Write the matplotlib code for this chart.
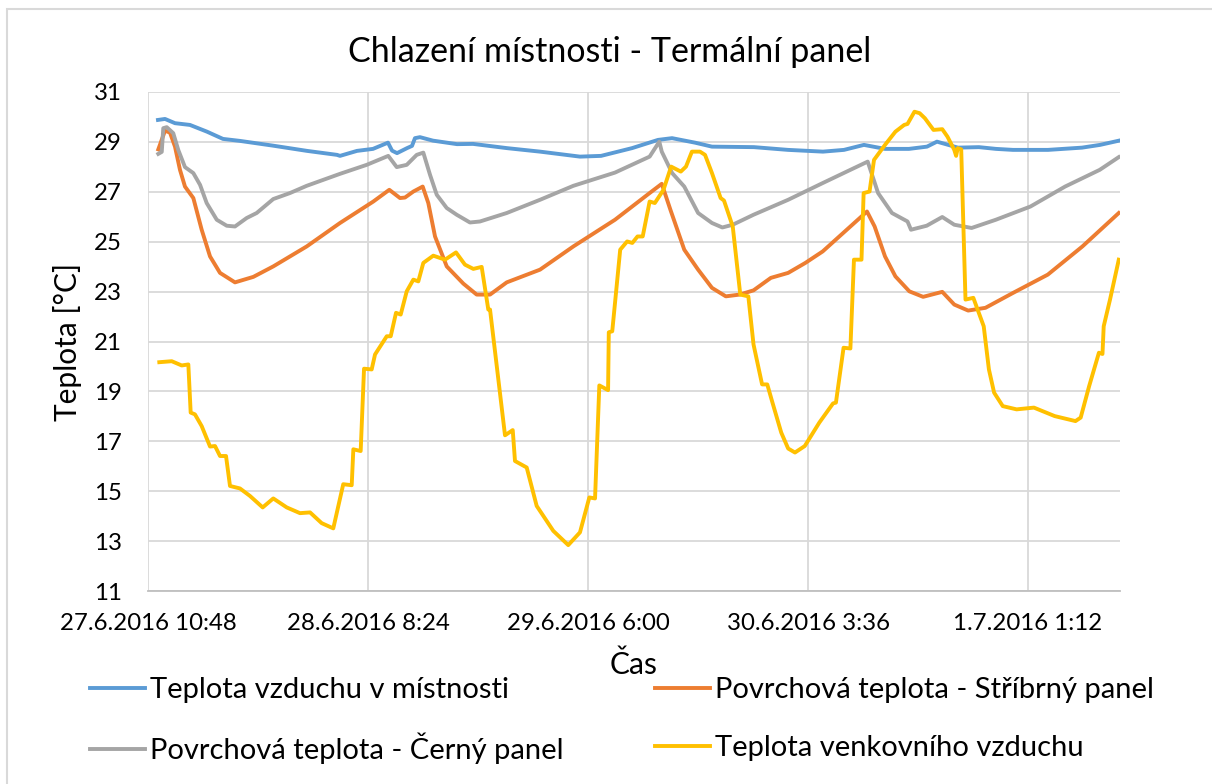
import numpy as np
import matplotlib
matplotlib.use('Agg')
import matplotlib.pyplot as plt
from matplotlib.patches import Rectangle

plt.rcParams['font.family'] = ['Lato', 'DejaVu Sans']

# cas v hodinach od 27.6.2016 10:48
t_room = [0.98, 1.67, 2.65, 4.12, 5.79, 7.36, 9.03, 12.27, 15.61, 18.56, 18.85, 20.52, 22.09, 23.56, 23.96,
          24.45, 25.43, 25.92, 26.21, 26.70, 27.98, 30.34, 31.91, 35.25, 38.49, 42.41, 44.48, 47.52, 50.07,
          51.45, 53.70, 55.37, 59.49, 62.84, 66.27, 68.33, 70.29, 72.36, 74.71, 76.48, 77.46, 79.52, 81.58,
          83.25, 84.92, 88.36, 91.70, 93.47, 95.33]
room = [29.88, 29.92, 29.75, 29.68, 29.41, 29.12, 29.04, 28.85, 28.64, 28.48, 28.44, 28.64, 28.72, 28.97, 28.65,
        28.55, 28.75, 28.84, 29.15, 29.19, 29.05, 28.91, 28.92, 28.75, 28.61, 28.41, 28.44, 28.75, 29.08,
        29.15, 28.97, 28.81, 28.79, 28.68, 28.61, 28.68, 28.88, 28.72, 28.72, 28.81, 29.01, 28.77, 28.79,
        28.72, 28.68, 28.68, 28.77, 28.88, 29.05]

t_silver = [1.01, 1.67, 2.16, 2.65, 3.14, 3.63, 4.45, 5.27, 6.09, 7.07, 8.54, 10.34, 12.30, 15.58, 18.85,
            22.12, 23.69, 24.74, 25.23, 26.05, 26.97, 27.52, 28.18, 29.33, 30.96, 32.27, 33.58, 35.22, 38.49,
            41.76, 45.85, 49.25, 50.44, 51.29, 52.65, 54.01, 55.37, 56.73, 58.08, 59.45, 61.15, 62.85, 64.54,
            66.24, 68.96, 70.59, 71.34, 72.36, 73.38, 74.75, 76.10, 77.98, 79.16, 80.52, 82.22, 84.94, 88.34,
            91.74, 95.31]
silver = [28.70, 29.45, 29.37, 28.81, 27.88, 27.21, 26.75, 25.48, 24.41, 23.75, 23.37, 23.59, 24.01, 24.81, 25.75,
          26.61, 27.08, 26.75, 26.77, 27.01, 27.21, 26.55, 25.21, 24.01, 23.32, 22.88, 22.88, 23.37, 23.88,
          24.81, 25.88, 26.95, 27.32, 26.28, 24.68, 23.88, 23.15, 22.81, 22.88, 23.05, 23.55, 23.75, 24.15,
          24.61, 25.61, 26.21, 25.61, 24.41, 23.61, 23.01, 22.79, 22.99, 22.48, 22.24, 22.35, 22.95, 23.68,
          24.81, 26.15]

t_black = [1.01, 1.35, 1.50, 1.84, 2.48, 2.97, 3.63, 4.45, 5.11, 5.76, 6.75, 7.73, 8.54, 9.69, 10.67, 12.30,
           13.94, 15.58, 18.85, 21.47, 23.59, 24.42, 25.40, 26.38, 27.03, 27.69, 28.35, 29.33, 30.31, 31.61,
           32.59, 35.22, 38.49, 41.76, 45.85, 49.25, 50.20, 50.44, 51.46, 52.65, 54.01, 55.37, 56.39, 57.41,
           59.45, 62.85, 66.24, 68.96, 70.66, 71.68, 73.04, 74.57, 74.91, 76.45, 77.98, 79.16, 80.86, 83.24,
           86.64, 90.04, 93.44, 95.31]
black = [28.52, 28.60, 29.55, 29.59, 29.35, 28.68, 27.99, 27.75, 27.28, 26.55, 25.88, 25.64, 25.61, 25.95, 26.15,
         26.71, 26.95, 27.24, 27.72, 28.08, 28.44, 27.99, 28.08, 28.48, 28.57, 27.68, 26.88, 26.35, 26.08, 25.77,
         25.81, 26.15, 26.68, 27.24, 27.77, 28.41, 29.01, 28.61, 27.75, 27.21, 26.15, 25.75, 25.57, 25.68,
         26.08, 26.68, 27.35, 27.88, 28.21, 26.95, 26.15, 25.81, 25.48, 25.64, 25.99, 25.68, 25.55, 25.88,
         26.41, 27.21, 27.88, 28.39]

t_out = [1.11, 2.33, 3.31, 3.96, 4.19, 4.61, 5.27, 6.09, 6.58, 7.07,
         7.66, 8.05, 9.03, 10.01, 11.26, 12.30, 13.62, 14.92, 15.91, 17.05,
         18.19, 19.17, 20.00, 20.16, 20.88, 21.21, 21.96, 22.29, 23.44, 23.83,
         24.35, 24.81, 25.40, 26.05, 26.54, 27.03, 28.01, 29.16, 30.24, 31.12,
         31.94, 32.76, 33.41, 33.58, 35.05, 35.81, 36.03, 37.18, 38.16, 39.79,
         41.26, 42.41, 43.33, 43.89, 44.31, 45.17, 45.24, 45.58, 46.36, 47.04,
         47.55, 48.06, 48.57, 49.25, 49.76, 50.61, 51.36, 52.31, 52.82, 53.40,
         54.19, 54.69, 55.37, 56.22, 56.55, 57.41, 58.15, 58.94, 59.45, 60.29,
         60.80, 61.31, 62.17, 62.85, 63.52, 64.48, 65.91, 67.26, 67.54, 68.29,
         68.96, 69.31, 70.05, 70.26, 70.84, 71.28, 72.36, 73.38, 74.24, 74.57,
         75.25, 75.76, 76.27, 77.12, 77.98, 78.49, 79.16, 79.34, 79.50, 79.84,
         80.26, 81.03, 82.05, 82.56, 83.07, 83.92, 85.28, 86.98, 89.02, 91.06,
         91.57, 92.40, 93.36, 93.71, 93.83, 94.45, 95.31]
outside = [20.17, 20.21, 20.04, 20.08, 18.15, 18.08, 17.61, 16.79, 16.81, 16.41,
           16.41, 15.21, 15.11, 14.81, 14.35, 14.71, 14.35, 14.12, 14.15, 13.72,
           13.51, 15.28, 15.24, 16.68, 16.61, 19.91, 19.88, 20.48, 21.21, 21.21,
           22.15, 22.08, 23.01, 23.48, 23.41, 24.15, 24.44, 24.28, 24.57, 24.08,
           23.91, 23.99, 22.28, 22.28, 17.24, 17.45, 16.21, 15.95, 14.41, 13.41,
           12.84, 13.35, 14.75, 14.71, 19.24, 19.05, 21.37, 21.41, 24.68, 25.01,
           24.95, 25.21, 25.21, 26.61, 26.55, 27.08, 28.01, 27.81, 28.01, 28.61,
           28.61, 28.48, 27.75, 26.75, 26.65, 25.61, 22.88, 22.81, 20.88, 19.28,
           19.28, 18.55, 17.35, 16.71, 16.55, 16.81, 17.75, 18.52, 18.55, 20.75,
           20.72, 24.28, 24.28, 26.95, 27.01, 28.28, 28.88, 29.41, 29.68, 29.72,
           30.21, 30.15, 29.95, 29.48, 29.51, 29.21, 28.68, 28.44, 28.75, 28.70,
           22.68, 22.75, 21.61, 19.88, 18.95, 18.41, 18.28, 18.35, 18.01, 17.81,
           17.95, 19.21, 20.55, 20.50, 21.61, 22.68, 24.28]

tick_hours = [0, 21.6, 43.2, 64.8, 86.4]
tick_labels = ['27.6.2016 10:48', '28.6.2016 8:24', '29.6.2016 6:00', '30.6.2016 3:36', '1.7.2016 1:12']
y_ticks = list(range(11, 32, 2))

W, H = 1212, 784
fig = plt.figure(figsize=(W / 100, H / 100), dpi=100)
ax = fig.add_axes([148 / W, 1 - 591 / H, (1120 - 148) / W, (591 - 92) / H])

lw = 2.8
l1, = ax.plot(t_room, room, color='#5B9BD5', lw=lw, label='Teplota vzduchu v místnosti')
l2, = ax.plot(t_silver, silver, color='#ED7D31', lw=lw, label='Povrchová teplota - Stříbrný panel')
l3, = ax.plot(t_black, black, color='#A5A5A5', lw=lw, label='Povrchová teplota - Černý panel')
l4, = ax.plot(t_out, outside, color='#FFC000', lw=lw, label='Teplota venkovního vzduchu')

ax.set_xlim(0, 95.43)
ax.set_ylim(11, 31)
ax.set_xticks(tick_hours, tick_labels)
ax.set_yticks(y_ticks)
ax.grid(color='#d9d9d9', lw=1.3)
ax.set_axisbelow(True)
for s in ['top', 'right', 'left']:
    ax.spines[s].set_visible(False)
ax.spines['bottom'].set_color('#bfbfbf')
ax.spines['bottom'].set_linewidth(1.3)
ax.tick_params(axis='x', length=0, pad=16, labelsize=17.3)
ax.tick_params(axis='y', length=0, pad=19, labelsize=17.3)

fig.text(610 / W, 1 - 52 / H, 'Chlazení místnosti - Termální panel', ha='center', va='center', fontsize=24.5)
fig.text(68 / W, 1 - 342 / H, 'Teplota [°C]', ha='center', va='center', rotation=90, fontsize=21.5)
fig.text(634 / W, 1 - 665 / H, 'Čas', ha='center', va='center', fontsize=21.5)

# legenda - ctyri polozky ve dvou sloupcich
leg_kw = dict(loc='center left', frameon=False, borderpad=0, borderaxespad=0, fontsize=21,
              handlelength=1.9, handletextpad=0.17)
leg_pos = [(l1, 90, 690), (l2, 655, 690), (l3, 90, 748), (l4, 655, 748)]
for h, x, y in leg_pos:
    fig.legend(handles=[h], bbox_to_anchor=(x / W, 1 - y / H), **leg_kw)

# ramecek grafu
fig.patches.append(Rectangle((7 / W, -0.1), 1.2, 1.1 - 9 / H, transform=fig.transFigure,
                             fill=False, edgecolor='#d9d9d9', lw=1.5))

fig.savefig('out.png', dpi=100)
